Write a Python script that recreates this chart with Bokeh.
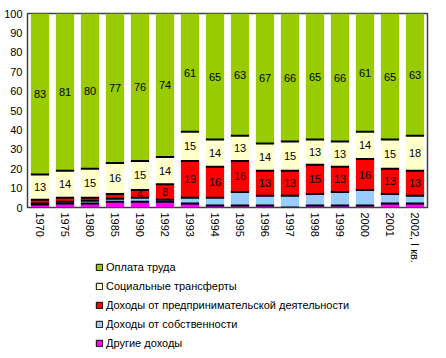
from bokeh.plotting import figure
from bokeh.layouts import column
from bokeh.models import Range1d, FixedTicker, Legend, LegendItem, ColumnDataSource
from bokeh.core.properties import value
from bokeh.embed import file_html
from bokeh.resources import INLINE

years = ["1970", "1975", "1980", "1985", "1990", "1992", "1993", "1994", "1995",
         "1996", "1997", "1998", "1999", "2000", "2001", "2002, I кв."]
other = [1.5, 2, 2, 3, 3, 3, 2, 1, 1, 1, 0, 1, 1, 1, 2, 2]
property_inc = [0.5, 1, 1.5, 1.5, 2, 1, 3, 4, 7, 5, 6, 6, 7, 8, 5, 4]
business = [2, 2, 1.5, 2.5, 4, 8, 19, 16, 16, 13, 13, 15, 13, 16, 13, 13]
social = [13, 14, 15, 16, 15, 14, 15, 14, 13, 14, 15, 13, 13, 14, 15, 18]
wages = [83, 81, 80, 77, 76, 74, 61, 65, 63, 67, 66, 65, 66, 61, 65, 63]

names = ["Другие доходы", "Доходы от собственности",
         "Доходы от предпринимательской деятельности",
         "Социальные трансферты", "Оплата труда"]
colors = ["#FF00FF", "#99CCFF", "#FF0000", "#FFFFCC", "#99CC00"]
series = [other, property_inc, business, social, wages]
keys = ["other", "prop", "bus", "soc", "wag"]

FONT = "Liberation Sans"
xs = list(range(len(years)))
W = 0.73

p = figure(width=430, height=265, output_backend="svg", toolbar_location=None,
           x_range=Range1d(-0.5, len(years) - 0.5), y_range=Range1d(0, 100),
           min_border_left=27, min_border_right=3, min_border_top=13,
           min_border_bottom=0)
p.background_fill_color = "white"
p.border_fill_color = "white"
p.outline_line_color = "#404040"
p.outline_line_width = 1.5
p.xgrid.grid_line_color = None
p.ygrid.grid_line_color = None

data = {"x": xs}
for k, s in zip(keys, series):
    data[k] = s
src = ColumnDataSource(data)
p.vbar_stack(keys, x="x", width=W, source=src, fill_color=colors,
             line_color=None)

# separators and labels
bottoms = [0.0] * len(years)
sep_x0, sep_x1, sep_y = [], [], []
lab_x, lab_y, lab_t = [], [], []
for si, s in enumerate(series):
    for i, v in enumerate(s):
        b = bottoms[i]
        if si >= 2 and v >= 4:
            lab_x.append(xs[i]); lab_y.append(b + v / 2); lab_t.append(str(int(v)))
        bottoms[i] = b + v
        if si < len(series) - 1:
            sep_x0.append(xs[i] - W / 2); sep_x1.append(xs[i] + W / 2); sep_y.append(bottoms[i])

p.segment(x0=sep_x0, x1=sep_x1, y0=sep_y, y1=sep_y, line_color="black", line_width=2)
p.text(x=lab_x, y=lab_y, text=lab_t, text_align="center", text_baseline="middle",
       text_font=value(FONT), text_font_size="11px", text_color="black")

# axes
p.yaxis.ticker = FixedTicker(ticks=list(range(0, 101, 10)))
p.xaxis.ticker = FixedTicker(ticks=xs)
p.xaxis.major_label_overrides = {i: y for i, y in enumerate(years)}
p.xaxis.major_label_orientation = "vertical"
for ax in (p.xaxis, p.yaxis):
    ax.axis_line_color = None
    ax.major_tick_line_color = None
    ax.minor_tick_line_color = None
    ax.major_tick_in = 0
    ax.major_tick_out = 0
    ax.major_label_text_font = FONT
    ax.major_label_text_font_size = "11px"
    ax.major_label_text_color = "black"
    ax.major_label_standoff = 5

# legend in its own transparent strip, tucked under the chart
lg = figure(width=430, height=91, output_backend="svg", toolbar_location=None,
            x_range=Range1d(0, 1), y_range=Range1d(0, 1),
            min_border_left=0, min_border_right=0, min_border_top=0,
            min_border_bottom=0)
lg.margin = (-7, 0, 0, 0)
lg.axis.visible = False
lg.grid.visible = False
lg.outline_line_color = None
lg.background_fill_alpha = 0
lg.border_fill_alpha = 0
nan = float("nan")
items = []
for name, c in zip(reversed(names), reversed(colors)):
    r = lg.vbar(x=[nan], top=[nan], width=0.5, fill_color=c, line_color="black",
                line_width=1)
    items.append(LegendItem(label=name, renderers=[r]))
legend = Legend(items=items, location=(68, 0), orientation="vertical",
                glyph_width=8, glyph_height=8, label_standoff=3, spacing=6,
                label_height=13, padding=0, margin=0,
                label_text_font=FONT, label_text_font_size="11px",
                label_text_color="black", border_line_color=None,
                background_fill_alpha=0)
lg.add_layout(legend, "center")

open("out.html", "w").write(file_html(column(p, lg, spacing=0), INLINE))
